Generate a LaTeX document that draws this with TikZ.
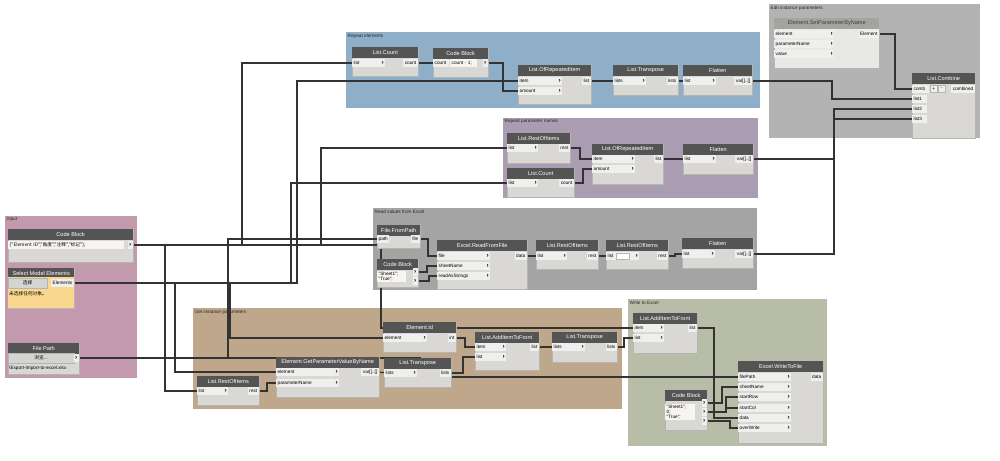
\documentclass[tikz,border=0pt]{standalone}
\usepackage{fontspec}
\setmainfont{Liberation Sans}
\newfontfamily\cjk{Noto Sans CJK SC}

\definecolor{grpin}{HTML}{C39AAD}
\definecolor{grprep}{HTML}{8EAFC7}
\definecolor{grppar}{HTML}{AA9CB1}
\definecolor{grpread}{HTML}{A4A4A4}
\definecolor{grpedit}{HTML}{B3B3B3}
\definecolor{grpget}{HTML}{BEA78B}
\definecolor{grpwr}{HTML}{B8BDA7}
\definecolor{headcol}{HTML}{545454}
\definecolor{headlite}{HTML}{A3A39F}
\definecolor{bodycol}{HTML}{D9D8D4}
\definecolor{portcol}{HTML}{EFEFED}
\definecolor{codecol}{HTML}{F6F5F0}
\definecolor{btncol}{HTML}{D4D4D2}
\definecolor{edgecol}{HTML}{B5B5B2}
\definecolor{selyel}{HTML}{F9D78E}
\definecolor{wirecol}{HTML}{333333}

\pgfdeclarelayer{bg}
\pgfdeclarelayer{wires}
\pgfsetlayers{bg,wires,main}

\newcommand{\portfont}{\fontsize{4.7}{5.2}\selectfont}
\newcommand{\chev}{{\fontsize{6.5}{6}\selectfont\textbf{›}}}
% name, x, y, width, height, title
\newcommand{\dynbox}[6]{%
  \node[dbody, minimum width=#4pt, minimum height=#5pt] (#1) at (#2,#3) {};
  \node[dhead, minimum width=#4pt] (#1-t) at (#2,#3) {#6};}

\begin{document}
\begin{tikzpicture}[x=1pt, y=-1pt,
  grp/.style={anchor=north west, inner sep=0pt},
  grptitle/.style={anchor=north west, inner sep=1.5pt, font=\portfont, text=black!85},
  dbody/.style={anchor=north west, fill=bodycol, draw=edgecol, line width=0.3pt, inner sep=0pt},
  dhead/.style={anchor=north west, fill=headcol, text=white, minimum height=10.5pt, inner sep=0pt, font=\fontsize{5.6}{6}\selectfont},
  inp/.style={anchor=west, fill=portcol, inner xsep=1.5pt, inner ysep=0pt, minimum height=8pt, font=\portfont},
  outp/.style={anchor=east, fill=portcol, inner xsep=1.5pt, inner ysep=0pt, minimum height=8pt, font=\portfont},
  code/.style={anchor=west, fill=codecol, inner xsep=1.5pt, inner ysep=0.5pt, minimum height=8pt, font=\portfont, align=left},
  btn/.style={anchor=west, fill=btncol, draw=edgecol, line width=0.3pt, minimum height=10pt, inner sep=0pt, font=\portfont},
  wire/.style={draw=wirecol, line width=1.25pt}]
\useasboundingbox (0,0) rectangle (1000,460);

% groups
\begin{pgfonlayer}{bg}
\node[grp, fill=grpin, minimum width=132pt, minimum height=162pt] (gin) at (5,216) {};
\node[grptitle] (gin-l) at (gin.north west) {Input};
\node[grp, fill=grprep, minimum width=414pt, minimum height=76pt] (grep) at (346,32) {};
\node[grptitle] (grep-l) at (grep.north west) {Repeat elements};
\node[grp, fill=grppar, minimum width=255pt, minimum height=80pt] (gpar) at (503,118) {};
\node[grptitle] (gpar-l) at (gpar.north west) {Repeat parameter names};
\node[grp, fill=grpread, minimum width=384pt, minimum height=82pt] (gread) at (373,208) {};
\node[grptitle] (gread-l) at (gread.north west) {Read values from Excel};
\node[grp, fill=grpedit, minimum width=211pt, minimum height=134pt] (gedit) at (769,4) {};
\node[grptitle] (gedit-l) at (gedit.north west) {Edit instance parameters};
\node[grp, fill=grpget, minimum width=429pt, minimum height=101pt] (gget) at (193,308) {};
\node[grptitle] (gget-l) at (gget.north west) {Get instance parameters};
\node[grp, fill=grpwr, minimum width=199pt, minimum height=147pt] (gwr) at (628,299) {};
\node[grptitle] (gwr-l) at (gwr.north west) {Write to Excel};
\end{pgfonlayer}

% Input
\dynbox{cbin}{8}{229}{125}{33}{Code Block}
\node[code, text width=113pt] (cbin-code) at (8,245) {\cjk \{"Element ID","角度","注释","标记"\};};
\node[outp] (cbin-out) at (133,245) {\chev};

\dynbox{sel}{8}{268}{66}{40}{Select Model Elements}
\node[anchor=north west, fill=selyel, minimum width=66pt, minimum height=31pt, inner sep=0pt] (sel-msg) at (8,277) {};
\node[btn, minimum width=39pt] (sel-btn) at (8,283) {\cjk 选择};
\node[outp] (sel-out) at (74,283) {Elements};
\node[anchor=west, inner sep=1pt, font=\portfont] (sel-txt) at (8,294) {\cjk 未选择任何对象。};

\dynbox{fp}{8}{343}{71}{31}{File Path}
\node[btn, minimum width=66pt] (fp-btn) at (8,358) {\cjk 浏览...};
\node[outp] (fp-out) at (79,358) {\chev};
\node[anchor=west, inner sep=1pt, font=\portfont] (fp-txt) at (8,368) {\textbackslash Export-Import-to-excel.xlsx};

% Repeat elements
\dynbox{lc1}{352}{47}{66}{29}{List.Count}
\node[inp, text width=30pt] (lc1-list) at (352,63) {list\hfill\chev};
\node[outp] (lc1-count) at (418,63) {count};

\dynbox{cb1}{433}{48}{55}{29}{Code Block}
\node[inp, text width=13pt] (cb1-in) at (433,63) {count};
\node[code, text width=24pt] (cb1-code) at (450,63) {count - 1;};
\node[outp] (cb1-out) at (488,63) {\chev};

\dynbox{ori1}{518}{65}{73}{39}{List.OfRepeatedItem}
\node[inp, text width=41pt] (ori1-item) at (518,81) {item\hfill\chev};
\node[inp, text width=41pt] (ori1-amt) at (518,91) {amount\hfill\chev};
\node[outp] (ori1-list) at (591,81) {list};

\dynbox{tr1}{613}{65}{65}{30}{List.Transpose}
\node[inp, text width=30pt] (tr1-lists) at (613,81) {lists\hfill\chev};
\node[outp] (tr1-out) at (678,81) {lists};

\dynbox{fl1}{683}{65}{69}{30}{Flatten}
\node[inp, text width=30pt] (fl1-list) at (683,81) {list\hfill\chev};
\node[outp] (fl1-var) at (752,81) {var[]..[]};

% Repeat parameter names
\dynbox{ri1}{507}{133}{63}{30}{List.RestOfItems}
\node[inp, text width=28pt] (ri1-list) at (507,148) {list\hfill\chev};
\node[outp] (ri1-rest) at (570,148) {rest};

\dynbox{lc2}{507}{168}{67}{29}{List.Count}
\node[inp, text width=28pt] (lc2-list) at (507,183) {list\hfill\chev};
\node[outp] (lc2-count) at (574,183) {count};

\dynbox{ori2}{592}{144}{71}{40}{List.OfRepeatedItem}
\node[inp, text width=40pt] (ori2-item) at (592,159) {item\hfill\chev};
\node[inp, text width=40pt] (ori2-amt) at (592,169) {amount\hfill\chev};
\node[outp] (ori2-list) at (663,159) {list};

\dynbox{fl2}{683}{144}{70}{30}{Flatten}
\node[inp, text width=30pt] (fl2-list) at (683,159) {list\hfill\chev};
\node[outp] (fl2-var) at (753,159) {var[]..[]};

% Read values from Excel
\dynbox{ffp}{377}{225}{43}{23}{File.FromPath}
\node[inp] (ffp-path) at (377,239) {path};
\node[outp] (ffp-file) at (420,239) {file};

\dynbox{cb2}{377}{259}{41}{28}{Code Block}
\node[code, text width=26pt] (cb2-code) at (377,276.5) {"Sheet1";\\"True";};
\node[outp] (cb2-o1) at (418,272) {\chev};
\node[outp] (cb2-o2) at (418,281) {\chev};

\dynbox{rff}{437}{240}{90}{49}{Excel.ReadFromFile}
\node[inp, text width=50pt] (rff-file) at (437,256) {file\hfill\chev};
\node[inp, text width=50pt] (rff-sheet) at (437,266) {sheetName\hfill\chev};
\node[inp, text width=50pt] (rff-ras) at (437,276) {readAsStrings\hfill\chev};
\node[outp] (rff-data) at (527,256) {data};

\dynbox{ri2}{536}{240}{62}{29}{List.RestOfItems}
\node[inp, text width=28pt] (ri2-list) at (536,256) {list\hfill\chev};
\node[outp] (ri2-rest) at (598,256) {rest};

\dynbox{ri3}{606}{240}{62}{29}{List.RestOfItems}
\node[inp, text width=30pt] (ri3-list) at (606,256) {list\hfill\chev};
\node[anchor=west, fill=white, draw=edgecol, line width=0.3pt, minimum width=13pt, minimum height=6pt, inner sep=0pt] (ri3-box) at (616,256) {};
\node[outp] (ri3-rest) at (668,256) {rest};

\dynbox{fl3}{682}{238}{71}{30}{Flatten}
\node[inp, text width=30pt] (fl3-list) at (682,254) {list\hfill\chev};
\node[outp] (fl3-var) at (753,254) {var[]..[]};

% Edit instance parameters
\node[dbody, fill=portcol!70!bodycol, minimum width=105pt, minimum height=50pt] (spbn) at (774,18) {};
\node[dhead, fill=headlite, text=black!75, minimum width=105pt] (spbn-t) at (774,18) {Element.SetParameterByName};
\node[inp, text width=57pt] (spbn-el) at (774,34) {element\hfill\chev};
\node[inp, text width=57pt] (spbn-pn) at (774,44) {parameterName\hfill\chev};
\node[inp, text width=57pt] (spbn-val) at (774,54) {value\hfill\chev};
\node[outp] (spbn-out) at (879,34) {Element};

\dynbox{lcb}{912}{73}{63}{65}{List.Combine}
\node[inp, text width=14pt] (lcb-comb) at (912,89) {comb};
\node[btn, fill=portcol, minimum width=7pt, minimum height=7pt] (lcb-plus) at (930,89) {+};
\node[btn, fill=portcol, minimum width=7pt, minimum height=7pt] (lcb-minus) at (938,89) {-};
\node[outp] (lcb-out) at (975,89) {combined};
\node[inp, text width=12pt] (lcb-l1) at (912,99) {list1};
\node[inp, text width=12pt] (lcb-l2) at (912,109) {list2};
\node[inp, text width=12pt] (lcb-l3) at (912,119) {list3};

% Get instance parameters
\dynbox{eid}{383}{322}{73}{30}{Element.Id}
\node[inp, text width=41pt] (eid-el) at (383,338) {element\hfill\chev};
\node[outp] (eid-int) at (456,338) {int};

\dynbox{aif1}{475}{332}{64}{38}{List.AddItemToFront}
\node[inp, text width=28pt] (aif1-item) at (475,347) {item\hfill\chev};
\node[inp, text width=28pt] (aif1-list) at (475,357) {list\hfill\chev};
\node[outp] (aif1-out) at (539,347) {list};

\dynbox{tr2}{552}{332}{65}{30}{List.Transpose}
\node[inp, text width=30pt] (tr2-lists) at (552,347) {lists\hfill\chev};
\node[outp] (tr2-out) at (617,347) {lists};

\dynbox{gpv}{276}{357}{103}{40}{Element.GetParameterValueByName}
\node[inp, text width=60pt] (gpv-el) at (276,372) {element\hfill\chev};
\node[inp, text width=60pt] (gpv-pn) at (276,383) {parameterName\hfill\chev};
\node[outp] (gpv-var) at (379,372) {var[]..[]};

\dynbox{tr3}{384}{358}{67}{29}{List.Transpose}
\node[inp, text width=30pt] (tr3-lists) at (384,373) {lists\hfill\chev};
\node[outp] (tr3-out) at (451,373) {lists};

\dynbox{ri4}{197}{376}{62}{29}{List.RestOfItems}
\node[inp, text width=28pt] (ri4-list) at (197,391) {list\hfill\chev};
\node[outp] (ri4-rest) at (259,391) {rest};

% Write to Excel
\dynbox{aif2}{633}{313}{64}{40}{List.AddItemToFront}
\node[inp, text width=28pt] (aif2-item) at (633,328) {item\hfill\chev};
\node[inp, text width=28pt] (aif2-list) at (633,338) {list\hfill\chev};
\node[outp] (aif2-out) at (697,328) {list};

\dynbox{wtf}{738}{361}{85}{82}{Excel.WriteToFile}
\node[inp, text width=50pt] (wtf-file) at (738,377) {filePath\hfill\chev};
\node[inp, text width=50pt] (wtf-sheet) at (738,387) {sheetName\hfill\chev};
\node[inp, text width=50pt] (wtf-srow) at (738,397) {startRow\hfill\chev};
\node[inp, text width=50pt] (wtf-scol) at (738,408) {startCol\hfill\chev};
\node[inp, text width=50pt] (wtf-data) at (738,418) {data\hfill\chev};
\node[inp, text width=50pt] (wtf-over) at (738,428) {overWrite\hfill\chev};
\node[outp] (wtf-out) at (823,377) {data};

\dynbox{cb3}{665}{390}{42}{40}{Code Block}
\node[code, text width=27pt] (cb3-code) at (665,412) {"Sheet1";\\0;\\"True";};
\node[outp] (cb3-o1) at (707,403) {\chev};
\node[outp] (cb3-o2) at (707,412) {\chev};
\node[outp] (cb3-o3) at (707,421) {\chev};

% wires
\begin{pgfonlayer}{wires}
\draw[wire] (cbin-out.east) -- ++(32,0) |- (ri4-list.west);
\draw[wire] (cbin-out.east) -- ++(109,0) |- (lc1-list.west);
\draw[wire] (cbin-out.east) -- ++(188,0) |- (ri1-list.west);
\draw[wire] (cbin-out.east) -- ++(248,0) |- (aif2-item.west);
\draw[wire] (sel-out.east) -- ++(101,0) |- (gpv-el.west);
\draw[wire] (sel-out.east) -- ++(156,0) |- (eid-el.west);
\draw[wire] (sel-out.east) -- ++(217,0) |- (lc2-list.west);
\draw[wire] (sel-out.east) -- ++(223,0) |- (ori1-item.west);
\draw[wire] (fp-out.east) -- ++(149,0) |- (ffp-path.west);
\draw[wire] (fp-out.east) -- ++(341,0) |- (wtf-file.west);

\draw[wire] (lc1-count) -- (cb1-in);
\draw[wire] (cb1-out.east) -- ++(15,0) |- (ori1-amt.west);
\draw[wire] (ori1-list) -- (tr1-lists);
\draw[wire] (tr1-out) -- (fl1-list);
\draw[wire] (fl1-var.east) -- ++(80,0) |- (lcb-l1.west);

\draw[wire] (ri1-rest.east) -- ++(10,0) |- (ori2-item.west);
\draw[wire] (lc2-count.east) -- ++(9,0) |- (ori2-amt.west);
\draw[wire] (ori2-list) -- (fl2-list);
\draw[wire] (fl2-var.east) -- ++(81,0) |- (lcb-l2.west);

\draw[wire] (ffp-file.east) -- ++(8,0) |- (rff-file.west);
\draw[wire] (cb2-o1.east) -- ++(9,0) |- (rff-sheet.west);
\draw[wire] (cb2-o2.east) -- ++(11,0) |- (rff-ras.west);
\draw[wire] (rff-data) -- (ri2-list);
\draw[wire] (ri2-rest) -- (ri3-list);
\draw[wire] (ri3-rest.east) -- ++(7,0) |- (fl3-list.west);
\draw[wire] (fl3-var.east) -- ++(81,0) |- (lcb-l3.west);

\draw[wire] (spbn-out.east) -- ++(16,0) |- (lcb-comb.west);

\draw[wire] (ri4-rest.east) -- ++(8,0) |- (gpv-pn.west);
\draw[wire] (gpv-var) -- (tr3-lists);
\draw[wire] (tr3-out.east) -- ++(12,0) |- (aif1-list.west);
\draw[wire] (eid-int.east) -- ++(9,0) |- (aif1-item.west);
\draw[wire] (aif1-out) -- (tr2-lists);
\draw[wire] (tr2-out.east) -- ++(7,0) |- (aif2-list.west);

\draw[wire] (aif2-out.east) -- ++(17,0) |- (wtf-data.west);
\draw[wire] (cb3-o1.east) -- ++(15,0) |- (wtf-sheet.west);
\draw[wire] (cb3-o2.east) -- ++(19,0) |- (wtf-srow.west);
\draw[wire] (cb3-o2.east) -- ++(19,0) |- (wtf-scol.west);
\draw[wire] (cb3-o3.east) -- ++(23,0) |- (wtf-over.west);
\end{pgfonlayer}
\end{tikzpicture}
\end{document}
